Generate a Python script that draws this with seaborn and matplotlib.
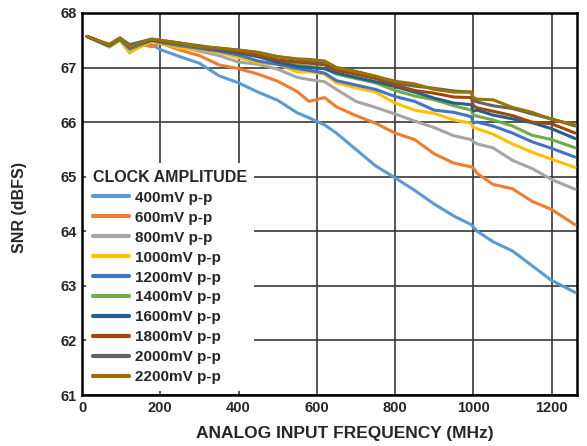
import matplotlib
matplotlib.use("Agg")
import matplotlib.pyplot as plt
import pandas as pd
import seaborn as sns

# analog input frequency (MHz), shared by every trace
freq = [13, 50, 70, 97, 122, 150, 178, 200, 250, 300, 350, 400, 450, 500, 550, 580,
        620, 650, 700, 750, 800, 850, 900, 950, 995, 1000, 1010, 1050, 1100, 1150, 1200, 1260]

snr_400 = [67.57, 67.45, 67.38, 67.50, 67.27, 67.40, 67.42, 67.33, 67.20, 67.08, 66.85, 66.72,
           66.55, 66.40, 66.17, 66.08, 65.95, 65.80, 65.50, 65.20, 64.98, 64.75, 64.50, 64.28,
           64.12, 64.08, 64.00, 63.81, 63.64, 63.37, 63.10, 62.88]
snr_600 = [67.57, 67.46, 67.40, 67.52, 67.36, 67.43, 67.38, 67.45, 67.32, 67.22, 67.05, 66.98,
           66.88, 66.75, 66.56, 66.38, 66.45, 66.28, 66.12, 65.98, 65.80, 65.68, 65.42, 65.25,
           65.18, 65.16, 65.06, 64.86, 64.78, 64.55, 64.40, 64.12]
snr_800 = [67.57, 67.45, 67.38, 67.52, 67.35, 67.43, 67.50, 67.45, 67.38, 67.30, 67.22, 67.10,
           67.06, 66.97, 66.82, 66.78, 66.74, 66.60, 66.38, 66.27, 66.15, 66.02, 65.90, 65.75,
           65.68, 65.64, 65.60, 65.53, 65.30, 65.15, 64.95, 64.77]
snr_1000 = [67.57, 67.45, 67.38, 67.50, 67.28, 67.38, 67.48, 67.44, 67.36, 67.33, 67.28, 67.18,
            67.09, 67.06, 66.92, 66.92, 66.88, 66.72, 66.63, 66.55, 66.35, 66.22, 66.16, 66.04,
            65.98, 65.90, 65.88, 65.78, 65.60, 65.45, 65.32, 65.17]
snr_1200 = [67.57, 67.45, 67.40, 67.52, 67.34, 67.42, 67.50, 67.46, 67.40, 67.35, 67.30, 67.23,
            67.12, 67.06, 66.98, 66.95, 66.90, 66.76, 66.68, 66.60, 66.47, 66.38, 66.22, 66.18,
            66.10, 65.99, 66.00, 65.93, 65.80, 65.64, 65.52, 65.36]
snr_1400 = [67.57, 67.45, 67.40, 67.53, 67.36, 67.43, 67.50, 67.47, 67.42, 67.38, 67.32, 67.28,
            67.20, 67.12, 67.05, 67.02, 66.98, 66.88, 66.80, 66.72, 66.58, 66.48, 66.41, 66.30,
            66.22, 66.13, 66.11, 66.04, 65.93, 65.76, 65.68, 65.53]
snr_1600 = [67.57, 67.46, 67.40, 67.53, 67.37, 67.44, 67.50, 67.48, 67.43, 67.38, 67.32, 67.27,
            67.20, 67.10, 67.02, 67.00, 66.98, 66.90, 66.82, 66.74, 66.65, 66.55, 66.44, 66.35,
            66.32, 66.20, 66.22, 66.13, 66.06, 65.99, 65.88, 65.70]
snr_1800 = [67.57, 67.47, 67.42, 67.54, 67.40, 67.46, 67.52, 67.48, 67.44, 67.38, 67.34, 67.29,
            67.22, 67.14, 67.10, 67.08, 67.05, 66.95, 66.88, 66.80, 66.68, 66.58, 66.53, 66.46,
            66.45, 66.30, 66.26, 66.20, 66.12, 66.00, 65.97, 65.80]
snr_2000 = [67.57, 67.47, 67.42, 67.54, 67.42, 67.47, 67.52, 67.50, 67.45, 67.40, 67.35, 67.32,
            67.27, 67.20, 67.15, 67.12, 67.10, 67.00, 66.93, 66.84, 66.72, 66.66, 66.62, 66.57,
            66.55, 66.40, 66.37, 66.30, 66.25, 66.15, 66.06, 65.93]
snr_2200 = [67.57, 67.47, 67.42, 67.54, 67.38, 67.45, 67.52, 67.50, 67.45, 67.38, 67.36, 67.32,
            67.28, 67.20, 67.16, 67.15, 67.12, 67.00, 66.92, 66.84, 66.75, 66.70, 66.60, 66.55,
            66.55, 66.45, 66.42, 66.41, 66.27, 66.18, 66.05, 65.95]

labels = ["400mV p-p", "600mV p-p", "800mV p-p", "1000mV p-p", "1200mV p-p",
          "1400mV p-p", "1600mV p-p", "1800mV p-p", "2000mV p-p", "2200mV p-p"]
colors = ["#5B9BD5", "#ED7D31", "#A5A5A5", "#FFC000", "#4472C4",
          "#70AD47", "#255E91", "#9E480E", "#636363", "#997300"]
series = [snr_400, snr_600, snr_800, snr_1000, snr_1200,
          snr_1400, snr_1600, snr_1800, snr_2000, snr_2200]

frames = []
for name, vals in zip(labels, series):
    frames.append(pd.DataFrame({"freq": freq, "snr": vals, "amp": name}))
df = pd.concat(frames, ignore_index=True)

sns.set_style("white")
plt.rcParams["font.family"] = ["Liberation Sans", "DejaVu Sans"]
plt.rcParams["font.weight"] = "bold"

fig = plt.figure(figsize=(5.87, 4.46), dpi=100)
ax = fig.add_axes([0.1397, 0.1143, 0.8433, 0.8566])

sns.lineplot(data=df, x="freq", y="snr", hue="amp", hue_order=labels,
             palette=dict(zip(labels, colors)), linewidth=2.2, sort=False,
             estimator=None, ax=ax, zorder=3)

ax.set_xlim(0, 1265)
ax.set_ylim(61, 68)
ax.set_xticks(range(0, 1201, 200))
ax.set_yticks(range(61, 69))
ax.grid(True, color="#383838", linewidth=1.2, zorder=1)
ax.set_axisbelow(True)

for side in ax.spines.values():
    side.set_color("black")
    side.set_linewidth(1.8)

ax.tick_params(axis="both", direction="in", length=5, width=1.2, color="#333333",
               labelsize=10.5, pad=4)
for lbl in ax.get_xticklabels() + ax.get_yticklabels():
    lbl.set_fontweight("bold")

ax.set_xlabel("ANALOG INPUT FREQUENCY (MHz)", fontsize=12.5, fontweight="bold")
ax.xaxis.set_label_coords(0.53, -0.08)
ax.set_ylabel("SNR (dBFS)", fontsize=11.5, fontweight="bold")
ax.yaxis.set_label_coords(-0.112, 0.49)

leg = ax.legend(title="CLOCK AMPLITUDE", loc="lower left", bbox_to_anchor=(0.0, 0.0),
                frameon=True, facecolor="white", edgecolor="none", framealpha=1.0,
                fancybox=False, fontsize=11, handlelength=2.4, handletextpad=0.35,
                labelspacing=0.39, borderaxespad=0.25, borderpad=0.45, alignment="left",
                title_fontproperties={"weight": "bold", "size": 11.5})
leg.set_zorder(5)
for line in leg.get_lines():
    line.set_linewidth(3)

fig.savefig("out.png", dpi=100)
